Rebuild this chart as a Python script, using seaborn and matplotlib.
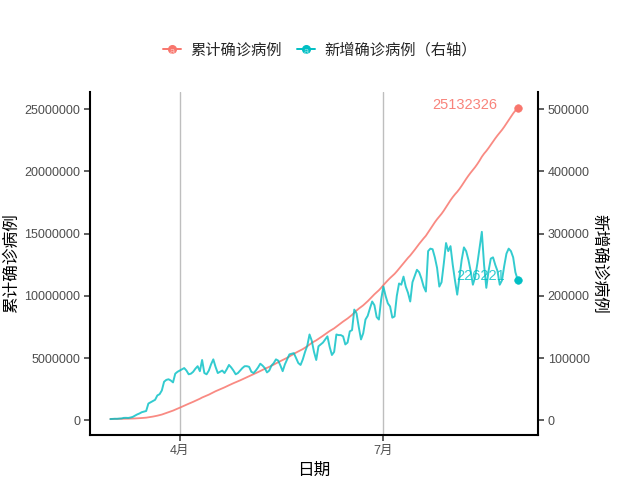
import numpy as np
import pandas as pd
import matplotlib
matplotlib.use("Agg")
import matplotlib.pyplot as plt
import seaborn as sns
from matplotlib.legend_handler import HandlerBase
from matplotlib.lines import Line2D
from matplotlib.text import Text

# ---------------- data ----------------
start_date = "2020-03-01"
end_date = "2020-08-30"

daily_mar = [2000, 2200, 2500, 2400, 2800, 3000, 3900, 4000, 3800, 4500,
             5500, 7500, 9500, 11000, 13000, 14000, 15000, 27000, 29000, 31000,
             33000, 40000, 42000, 48000, 62000, 65000, 66000, 64000, 61000, 75000,
             78000]
daily_apr = [80000, 82000, 84000, 80000, 74000, 75000, 78000, 83000, 87000, 79000,
             97000, 76000, 74000, 80000, 90000, 98000, 86000, 76000, 78000, 80000,
             76000, 82000, 89000, 85000, 80000, 74000, 76000, 80000, 84000, 87000]
daily_may = [87000, 86000, 78000, 76000, 80000, 85000, 91000, 88000, 84000, 77000,
             80000, 88000, 92000, 98000, 96000, 88000, 79000, 90000, 98000, 106000,
             107000, 108000, 100000, 92000, 89000, 98000, 110000, 120000, 138000, 128000,
             110000]
daily_jun = [97000, 119000, 122000, 125000, 130000, 135000, 118000, 105000, 110000, 138000,
             137000, 137000, 135000, 122000, 125000, 143000, 145000, 178000, 172000, 150000,
             130000, 140000, 162000, 168000, 180000, 191000, 185000, 166000, 162000, 194000]
daily_jul = [215000, 200000, 188000, 183000, 165000, 167000, 200000, 220000, 218000, 231000,
             215000, 205000, 191000, 222000, 232000, 242000, 238000, 228000, 215000, 207000,
             272000, 276000, 275000, 262000, 245000, 215000, 222000, 252000, 285000, 272000,
             280000]
daily_aug = [250000, 225000, 202000, 230000, 258000, 278000, 272000, 258000, 240000, 218000,
             230000, 252000, 278000, 303000, 250000, 213000, 240000, 260000, 262000, 250000,
             240000, 218000, 225000, 248000, 268000, 276000, 272000, 262000, 238000, 226221]

last_cum = 25132326

series_names = ["累计确诊病例", "新增确诊病例（右轴）"]
x_title = "日期"
y_left_title = "累计确诊病例"
y_right_title = "新增确诊病例"
month_ticks = ["2020-04-01", "2020-07-01"]
month_labels = ["4月", "7月"]
left_ticks = [0, 5000000, 10000000, 15000000, 20000000, 25000000]
right_ticks = [0, 100000, 200000, 300000, 400000, 500000]
sec_scale = 50

daily = np.array(daily_mar + daily_apr + daily_may + daily_jun + daily_jul + daily_aug, dtype=float)
dates = pd.date_range(start_date, end_date, freq="D")
# cumulative anchored at the final reported total: cum[i] = last_cum - sum(daily[i+1:])
after = np.cumsum(daily[::-1])[::-1] - daily
cum = last_cum - after

df = pd.DataFrame({"date": dates, "cum": cum, "daily_scaled": daily * sec_scale})

RED = "#F8766D"
CYAN = "#00BFC4"

# ---------------- style ----------------
sns.set_theme(style="white")
plt.rcParams["font.family"] = ["Liberation Sans", "Noto Sans CJK SC", "DejaVu Sans"]

fig = plt.figure(figsize=(6.4, 4.8), dpi=100)
ax = fig.add_axes([90 / 640, 1 - 435 / 480, (538 - 90) / 640, (435 - 92) / 480])

sns.lineplot(data=df, x="date", y="cum", color=RED, linewidth=1.3, alpha=0.85, ax=ax)
sns.lineplot(data=df, x="date", y="daily_scaled", color=CYAN, linewidth=1.4, alpha=0.8, ax=ax)
last = df.tail(1)
sns.scatterplot(data=last, x="date", y="cum", color=RED, s=30, edgecolor=RED, ax=ax, zorder=5)
sns.scatterplot(data=last, x="date", y="daily_scaled", color=CYAN, s=30, edgecolor=CYAN, ax=ax, zorder=5)

ax.annotate(f"{last_cum}", xy=(dates[-1], cum[-1]), xytext=(-20, 3), textcoords="offset pixels",
            ha="right", va="center", color=RED, fontsize=10.5, alpha=0.9)
ax.annotate(f"{int(daily[-1])}", xy=(dates[-1], daily[-1] * sec_scale), xytext=(-13, 4),
            textcoords="offset pixels", ha="right", va="center", color=CYAN, fontsize=10.5, alpha=0.8)

pad = pd.Timedelta(days=9.1)
ax.set_xlim(dates[0] - pad, dates[-1] + pad)
ax.set_ylim(-1180000, 26390000)

ax.set_xticks(pd.to_datetime(month_ticks))
ax.set_xticklabels(month_labels)
ax.set_yticks(left_ticks)
ax.set_yticklabels([str(v) for v in left_ticks])

ax.xaxis.grid(True, color="#BEBEBE", linewidth=1.0)
ax.yaxis.grid(False)
ax.set_axisbelow(True)

for s in ["top", "right"]:
    ax.spines[s].set_visible(False)
for s in ["left", "bottom"]:
    ax.spines[s].set_color("black")
    ax.spines[s].set_linewidth(1.5)

ax.tick_params(axis="both", which="major", bottom=True, left=True, direction="out",
               length=4, width=1.1, color="#333333", labelcolor="#4D4D4D", labelsize=9, pad=3)

ax.set_xlabel(x_title, fontsize=12, color="black", labelpad=4)
ax.set_ylabel(y_left_title, fontsize=12, color="black", labelpad=4)

sec = ax.secondary_yaxis("right", functions=(lambda y: y / sec_scale, lambda y: y * sec_scale))
sec.set_yticks(right_ticks)
sec.set_yticklabels([str(v) for v in right_ticks])
sec.spines["right"].set_color("black")
sec.spines["right"].set_linewidth(1.5)
sec.tick_params(axis="y", right=True, direction="out", length=4, width=1.1, color="#333333",
                labelcolor="#4D4D4D", labelsize=9, pad=3)
sec.set_ylabel(y_right_title, fontsize=12, color="black", rotation=270, va="bottom", labelpad=1)


class KeyHandler(HandlerBase):
    def create_artists(self, legend, orig_handle, xdescent, ydescent, width, height, fontsize, trans):
        c = orig_handle.get_color()
        y = height / 2 - ydescent
        xc = width / 2 - xdescent
        ln = Line2D([-xdescent, width - xdescent], [y, y], color=c, lw=1.4, transform=trans)
        mk = Line2D([xc], [y], marker="o", markersize=5.5, color=c, ls="none", transform=trans)
        tx = Text(xc, y - 1.5, "a", color="white", fontsize=fontsize * 0.6, ha="center", va="center",
                  transform=trans, alpha=0.6)
        return [ln, mk, tx]


handles = [Line2D([], [], color=RED), Line2D([], [], color=CYAN)]
fig.legend(handles, series_names, loc="center", bbox_to_anchor=(0.5, 1 - 50 / 480), ncol=2,
           frameon=False, fontsize=11, handlelength=1.2, handletextpad=0.6, columnspacing=1.0,
           handler_map={Line2D: KeyHandler()})

fig.savefig("out.png", dpi=100)
